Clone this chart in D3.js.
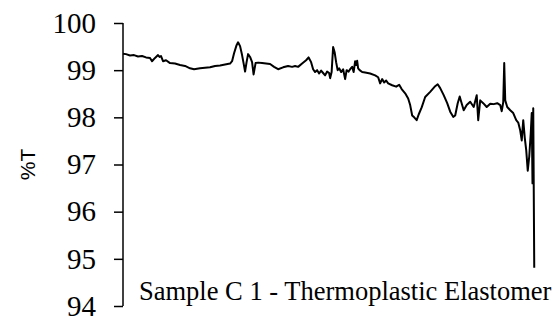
<!DOCTYPE html>
<html>
<head>
<meta charset="utf-8">
<script src="https://cdn.jsdelivr.net/npm/d3@7"></script>
<style>
  body { margin: 0; background: #fff; }
  svg { display: block; }
</style>
</head>
<body>
<div id="chart"></div>
<script>
// wavenumber (cm-1)
const wavenumber = [
  4000, 3976, 3944, 3912, 3880, 3848, 3816, 3784, 3768, 3744,
  3720, 3708, 3696, 3680, 3656, 3624, 3584, 3544, 3504, 3464,
  3432, 3384, 3344, 3304, 3264, 3224, 3184, 3144, 3128, 3112,
  3092, 3080, 3064, 3048, 3036, 3024, 3012, 3000, 2984, 2968,
  2956, 2940, 2920, 2888, 2856, 2824, 2792, 2760, 2720, 2680,
  2648, 2624, 2600, 2568, 2536, 2516, 2496, 2480, 2464, 2448,
  2432, 2416, 2400, 2384, 2368, 2352, 2344, 2332, 2320, 2308,
  2296, 2284, 2272, 2256, 2240, 2224, 2212, 2196, 2184, 2168,
  2156, 2144, 2136, 2128, 2120, 2108, 2088, 2064, 2024, 1984,
  1960, 1944, 1928, 1912, 1896, 1880, 1848, 1816, 1792, 1772,
  1744, 1720, 1704, 1688, 1672, 1652, 1636, 1612, 1584, 1544,
  1504, 1484, 1464, 1436, 1408, 1384, 1360, 1344, 1324, 1308,
  1296, 1276, 1252, 1224, 1196, 1172, 1160, 1144, 1120, 1092,
  1064, 1036, 1008, 984, 972, 960, 952, 944, 928, 904,
  880, 856, 840, 824, 812, 800, 788, 776, 764, 752,
  740, 732, 726, 720, 712
];

// %T
const transmittance = [
  99.35, 99.34, 99.31, 99.32, 99.29, 99.30, 99.27, 99.26, 99.19, 99.26,
  99.32, 99.28, 99.30, 99.19, 99.21, 99.15, 99.14, 99.11, 99.09, 99.04,
  99.02, 99.04, 99.05, 99.06, 99.09, 99.10, 99.12, 99.14, 99.19, 99.36,
  99.53, 99.59, 99.51, 99.32, 99.15, 98.97, 99.17, 99.34, 99.28, 99.17,
  98.91, 99.15, 99.16, 99.15, 99.14, 99.13, 99.07, 99.02, 99.06, 99.09,
  99.07, 99.09, 99.07, 99.14, 99.21, 99.27, 99.17, 99.02, 98.96, 99.00,
  98.93, 98.99, 98.94, 98.89, 98.97, 98.94, 98.83, 98.96, 99.49, 99.38,
  99.17, 99.00, 99.04, 98.96, 99.02, 98.81, 99.00, 98.97, 99.02, 99.07,
  98.96, 99.19, 99.11, 99.20, 99.04, 99.00, 98.96, 98.95, 98.93, 98.89,
  98.85, 98.72, 98.81, 98.74, 98.78, 98.72, 98.68, 98.65, 98.69, 98.60,
  98.51, 98.40, 98.26, 98.04, 98.00, 97.94, 98.06, 98.21, 98.43, 98.54,
  98.66, 98.70, 98.62, 98.47, 98.30, 98.12, 98.01, 98.04, 98.30, 98.44,
  98.33, 98.15, 98.26, 98.33, 98.22, 98.47, 97.94, 98.36, 98.30, 98.22,
  98.29, 98.28, 98.30, 98.26, 98.13, 98.32, 99.15, 98.36, 98.22, 98.15,
  98.09, 97.94, 97.89, 97.72, 97.51, 97.94, 97.57, 97.30, 96.87, 97.17,
  97.66, 98.09, 96.60, 98.19, 94.81
];

const yTicks = [94, 95, 96, 97, 98, 99, 100];
const yLabel = "%T";
const title = "Sample C 1 - Thermoplastic Elastomer";

const width = 559, height = 325;
const margin = { top: 23, right: 17, bottom: 19, left: 123 };

const data = wavenumber.map((w, i) => ({ w: w, t: transmittance[i] }));

const x = d3.scaleLinear()
    .domain([4000, 650])
    .range([margin.left, width - margin.right]);

const y = d3.scaleLinear()
    .domain([94, 100])
    .range([height - margin.bottom, margin.top]);

const svg = d3.select("#chart")
    .append("svg")
    .attr("width", width)
    .attr("height", height);

// y axis, ticks pointing out
const yAxis = svg.append("g")
    .attr("transform", `translate(${margin.left},0)`)
    .call(d3.axisLeft(y).tickValues(yTicks).tickSize(9).tickPadding(18).tickFormat(d3.format("d")));

yAxis.select(".domain").attr("stroke", "#000").attr("stroke-width", 1.5)
    .attr("d", `M0,${y(100)}V${y(94)}`);
yAxis.selectAll(".tick line").attr("stroke", "#000").attr("stroke-width", 1.5);
yAxis.selectAll(".tick text")
    .style("font-family", "'Liberation Serif', 'Times New Roman', serif")
    .style("font-size", "29px")
    .attr("fill", "#000");

svg.append("text")
    .attr("transform", `translate(35,${(y(94) + y(100)) / 2}) rotate(-90)`)
    .attr("text-anchor", "middle")
    .style("font-family", "'Liberation Sans', Arial, sans-serif")
    .style("font-size", "21px")
    .text(yLabel);

const line = d3.line()
    .x(d => x(d.w))
    .y(d => y(d.t));

svg.append("path")
    .datum(data)
    .attr("fill", "none")
    .attr("stroke", "#000")
    .attr("stroke-width", 2)
    .attr("stroke-linejoin", "round")
    .attr("d", line);

svg.append("text")
    .attr("x", 139)
    .attr("y", 300)
    .style("font-family", "'Liberation Serif', 'Times New Roman', serif")
    .style("font-size", "26.5px")
    .text(title);
</script>
</body>
</html>
